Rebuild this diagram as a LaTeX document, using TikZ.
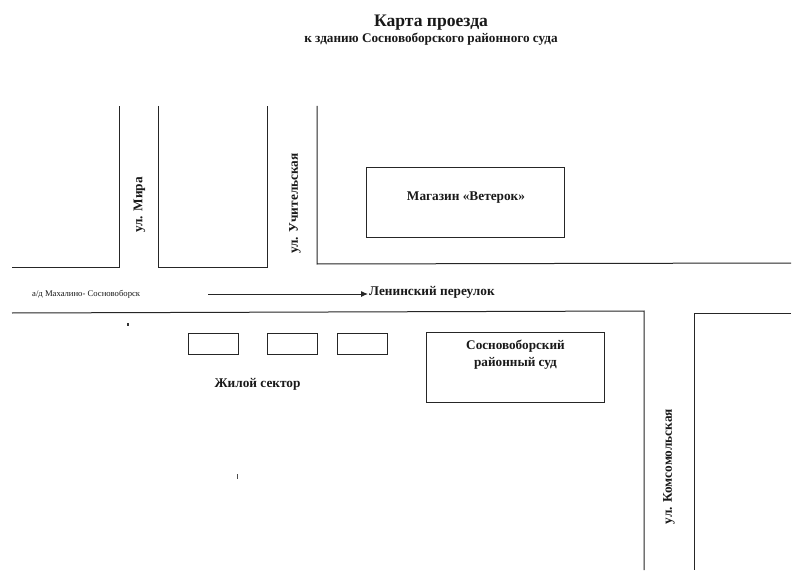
\documentclass[tikz,border=0pt]{standalone}
\usepackage{fontspec}
\setmainfont{Liberation Serif}
\usetikzlibrary{arrows.meta}
\begin{document}
\begin{tikzpicture}[x=1pt,y=-1pt,
  road/.style={draw=black!85,line width=1pt},
  lbl/.style={inner sep=0pt,text=black!90},
  big/.style={lbl,font=\bfseries\fontsize{13.3}{16}\selectfont},
  house/.style={road,minimum width=50pt,minimum height=21pt,inner sep=0pt}]
\useasboundingbox[fill=white] (0,0) rectangle (800,572);
% roads
\draw[road] (12,267.5) -- (119.5,267.5) -- (119.5,106);
\draw[road] (158.5,106) -- (158.5,267.5) -- (267.5,267.5) -- (267.5,106);
\draw[road] (317,106) -- (317,264) -- (791,263);
\draw[road] (12,313) -- (644,311) -- (644,570);
\draw[road] (791,313) -- (694,313) -- (694,570);
% boxes
\node[road,minimum width=198pt,minimum height=70pt,inner sep=0pt] (shop) at (465.5,202.5) {};
\node[road,minimum width=178pt,minimum height=70pt,inner sep=0pt] (court) at (515.5,367) {};
\node[house] (h1) at (213.5,343.5) {};
\node[house] (h2) at (292.5,343.5) {};
\node[house] (h3) at (362,343.5) {};
% labels
\node[lbl,font=\bfseries\fontsize{17.6}{20}\selectfont] (t1) at (431,23) {Карта проезда};
\node[lbl,font=\bfseries\fontsize{13.2}{15}\selectfont] (t2) at (431,39) {к зданию Сосновоборского районного суда};
\node[big] (shoplbl) at (466,198) {Магазин «Ветерок»};
\node[big,font=\bfseries\fontsize{13.2}{17}\selectfont,align=center] (courtlbl) at (515.5,355) {Сосновоборский\\районный суд};
\node[big] (zh) at (257.5,384) {Жилой сектор};
\node[big,rotate=90] (m) at (139.5,205) {ул. Мира};
\node[big,rotate=90] (u) at (295,203.5) {ул. Учительская};
\node[big,rotate=90] (k) at (669,466.5) {ул. Комсомольская};
\node[lbl,font=\fontsize{8.65}{10}\selectfont,anchor=west] (ad) at (32,294) {а/д Махалино- Сосновоборск};
\node[big,anchor=west] (len) at (369,292.5) {Ленинский переулок};
\coordinate (as) at (208,294);
\draw[black!85,line width=1pt,-{Latex[length=7pt,width=6pt]}] (as) -- ([xshift=-1pt]len.west |- as);
% scan specks
\fill[black!80] (126.5,323) rectangle (128.5,326);
\fill[black!70] (236.5,474) rectangle (237.5,479);
\end{tikzpicture}
\end{document}
